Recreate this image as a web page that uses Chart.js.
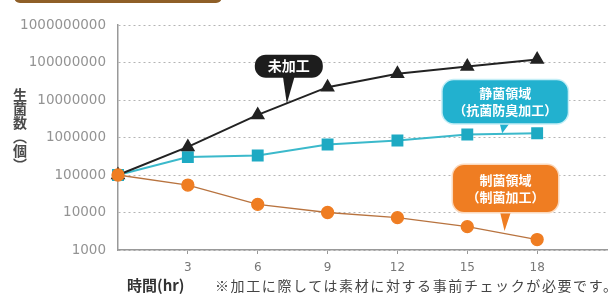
<!DOCTYPE html>
<html>
<head>
<meta charset="utf-8">
<script src="https://cdn.jsdelivr.net/npm/chart.js@4"></script>
<style>
  body { margin: 0; background: #fff; }
  #wrap { position: relative; width: 616px; height: 294px; overflow: hidden; font-family: "Noto Sans CJK JP", sans-serif; }
  #chart { position: absolute; left: 0; top: 0; }
  #topbar { position: absolute; left: 14px; top: -7px; width: 208px; height: 10px; background: #8f5f28; border-radius: 0 0 6px 6px; }
  #ytitle { position: absolute; left: 10px; top: 88px; writing-mode: vertical-rl; font-size: 14px; font-weight: bold; color: #4a4a4a; }
  #xtitle { position: absolute; left: 127px; top: 274px; font-size: 15px; font-weight: bold; color: #333; }
  #note { position: absolute; left: 215px; top: 275px; font-size: 14px; color: #444; letter-spacing: 1.6px; white-space: nowrap; }
</style>
</head>
<body>
<div id="wrap">
  <canvas id="chart" width="616" height="294"></canvas>
  <div id="topbar"></div>
  <div id="ytitle">生菌数（個）</div>
  <div id="xtitle">時間(hr)</div>
  <div id="note">※加工に際しては素材に対する事前チェックが必要です。</div>
</div>
<script>
// hours after inoculation
const HOURS = [0, 3, 6, 9, 12, 15, 18];

// viable bacteria count per series
const UNTREATED = [100000, 560000, 4000000, 22000000, 50000000, 78000000, 120000000];
const DEODORANT = [100000, 300000, 330000, 650000, 830000, 1200000, 1300000];
const ANTIBACTERIAL = [100000, 54000, 16500, 10000, 7300, 4200, 1900];

// tick values
const X_TICKS = [3, 6, 9, 12, 15, 18];
const Y_TICKS = [1000, 10000, 100000, 1000000, 10000000, 100000000, 1000000000];

// callouts: tip in data units, box offset/size in px
const CALLOUTS = [
    { lines: ['未加工'], tip: [7.25, 8000000], dx: 2, dy: -37.5, w: 68, h: 23, fill: '#1d1d1d', glow: null, size: 14 },
    { lines: ['静菌領域', '（抗菌防臭加工）'], tip: [16.5, 1300000], dx: 3, dy: -31.5, w: 125, h: 43, fill: '#22b1cf', glow: '#c4eef6', size: 13 },
    { lines: ['制菌領域', '（制菌加工）'], tip: [16.6, 3200], dx: 1, dy: -42.5, w: 105, h: 47, fill: '#ef7d22', glow: '#fbd9bd', size: 13 }
];

const toPoints = (vals) => HOURS.map((h, i) => ({ x: h, y: vals[i] }));

const calloutPlugin = {
    id: 'callouts',
    afterDatasetsDraw(chart) {
        const ctx = chart.ctx;
        const xs = chart.scales.x, ys = chart.scales.y;
        CALLOUTS.forEach(c => {
            const tx = xs.getPixelForValue(c.tip[0]);
            const ty = ys.getPixelForValue(c.tip[1]);
            const cx = tx + c.dx, cy = ty + c.dy;
            const left = cx - c.w / 2, top = cy - c.h / 2;
            ctx.save();
            // pointer
            ctx.fillStyle = c.fill;
            ctx.beginPath();
            ctx.moveTo(cx - 6, top + c.h - 2);
            ctx.lineTo(cx + 6, top + c.h - 2);
            ctx.lineTo(tx, ty);
            ctx.closePath();
            ctx.fill();
            // box
            ctx.beginPath();
            ctx.roundRect(left, top, c.w, c.h, Math.min(11, c.h / 2));
            if (c.glow) {
                ctx.lineWidth = 3;
                ctx.strokeStyle = c.glow;
                ctx.stroke();
            }
            ctx.fill();
            // text
            ctx.fillStyle = '#fff';
            ctx.font = 'bold ' + c.size + 'px "Noto Sans CJK JP", sans-serif';
            ctx.textAlign = 'center';
            ctx.textBaseline = 'middle';
            const lh = c.size + 4;
            const y0 = cy - (c.lines.length - 1) * lh / 2;
            c.lines.forEach((t, i) => ctx.fillText(t, cx, y0 + i * lh));
            ctx.restore();
        });
    }
};

Chart.defaults.font.family = '"DejaVu Sans", sans-serif';

const config = {
    type: 'line',
    data: {
        datasets: [
            {
                label: '制菌加工',
                data: toPoints(ANTIBACTERIAL),
                borderColor: '#b8733f',
                borderWidth: 1.3,
                backgroundColor: '#ef7d22',
                pointBackgroundColor: '#ef7d22',
                pointBorderColor: '#ef7d22',
                pointStyle: 'circle',
                pointRadius: 6,
                clip: false
            },
            {
                label: '未加工',
                data: toPoints(UNTREATED),
                borderColor: '#222',
                borderWidth: 2,
                backgroundColor: '#222',
                pointBackgroundColor: '#222',
                pointBorderColor: '#222',
                pointStyle: 'triangle',
                pointRadius: 6.5,
                clip: false
            },
            {
                label: '抗菌防臭加工',
                data: toPoints(DEODORANT),
                borderColor: '#3bb9cb',
                borderWidth: 2,
                backgroundColor: '#1eaac3',
                pointBackgroundColor: '#1eaac3',
                pointBorderColor: '#1eaac3',
                pointStyle: 'rect',
                pointRadius: 7,
                clip: false
            }
        ]
    },
    options: {
        responsive: false,
        animation: false,
        layout: { padding: { top: 25, right: 0, bottom: 0, left: 0 } },
        plugins: {
            legend: { display: false },
            tooltip: { enabled: false }
        },
        scales: {
            x: {
                type: 'linear',
                min: 0,
                max: 21,
                afterBuildTicks: s => { s.ticks = X_TICKS.map(v => ({ value: v })); },
                afterFit: s => { s.height = 44; },
                grid: { drawOnChartArea: false, drawTicks: true, tickLength: 4, color: '#999' },
                border: { color: '#999', width: 1.5 },
                ticks: { color: '#777', font: { size: 12 }, padding: 7, maxRotation: 0 }
            },
            y: {
                type: 'logarithmic',
                min: 1000,
                max: 1000000000,
                afterBuildTicks: s => { s.ticks = Y_TICKS.map(v => ({ value: v })); },
                afterFit: s => { s.width = 118; },
                grid: { color: '#b4b4b4', drawTicks: false, lineWidth: 1 },
                border: { color: '#999', width: 1.5, dash: [2, 3] },
                ticks: {
                    color: '#939393',
                    font: { size: 13.5 },
                    padding: 12,
                    callback: v => String(v)
                }
            }
        }
    },
    plugins: [calloutPlugin]
};

const myChart = new Chart(document.getElementById('chart').getContext('2d'), config);
</script>
</body>
</html>
